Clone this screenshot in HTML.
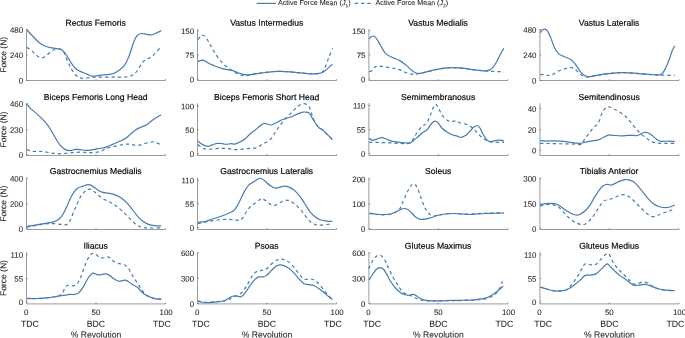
<!DOCTYPE html><html><head><meta charset="utf-8"><title>Muscle forces</title>
<style>html,body{margin:0;padding:0;background:#fff;overflow:hidden}svg{display:block;will-change:transform}text{font-family:"Liberation Sans",sans-serif;fill:#262626;stroke:#262626;stroke-width:0.07px}text.t{fill:#0a0a0a;stroke:#0a0a0a;stroke-width:0.2px}</style></head><body>
<svg width="685" height="338" viewBox="0 0 685 338">
<rect width="685" height="338" fill="#fff"/>
<line x1="256.7" y1="3.4" x2="276" y2="3.4" stroke="#457bb1" stroke-width="1.2"/>
<text transform="translate(278.00 5.10) rotate(0.03)" font-size="7.15">Active Force Mean (<tspan font-style="italic">J</tspan><tspan font-size="4.8" dy="2.1">1</tspan><tspan dy="-2.1">)</tspan></text>
<line x1="354.8" y1="3.4" x2="374" y2="3.4" stroke="#457bb1" stroke-width="1.2" stroke-dasharray="3.3 3"/>
<text transform="translate(375.60 5.10) rotate(0.03)" font-size="7.15">Active Force Mean (<tspan font-style="italic">J</tspan><tspan font-size="4.8" dy="2.1">2</tspan><tspan dy="-2.1">)</tspan></text>
<g stroke="#383838" stroke-width="0.5" fill="none">
<path d="M26.50 28.90 V80.50 H165.50"/>
<path d="M96.00 80.50 v-1.4"/>
<path d="M165.50 80.50 v-1.4"/>
<path d="M26.50 29.60 h1.4"/>
<path d="M26.50 54.90 h1.4"/>
<path d="M26.50 80.40 h1.4"/>
</g>
<text transform="translate(23.10 32.73) rotate(0.03)" font-size="7.90" text-anchor="end">480</text>
<text transform="translate(23.10 58.03) rotate(0.03)" font-size="7.90" text-anchor="end">240</text>
<text transform="translate(23.10 83.53) rotate(0.03)" font-size="7.90" text-anchor="end">0</text>
<text class="t" transform="translate(95.70 25.75) rotate(0.03)" font-size="8.62" text-anchor="middle">Rectus Femoris</text>
<path d="M26.86 47.35C27.67 47.89 30.11 49.24 31.73 50.59C33.36 51.95 34.99 54.25 36.61 55.47C38.24 56.69 39.87 57.91 41.49 57.91C43.12 57.91 44.61 56.69 46.37 55.47C48.13 54.25 50.31 51.63 52.08 50.59C53.84 49.56 55.46 49.50 56.96 49.29C58.45 49.07 59.81 48.66 61.03 49.29C62.25 49.91 63.19 51.05 64.27 53.03C65.35 55.02 66.30 58.47 67.52 61.18C68.74 63.89 70.23 67.00 71.59 69.30C72.95 71.61 74.31 73.60 75.66 75.01C77.02 76.42 78.25 77.24 79.74 77.78C81.23 78.32 82.42 78.36 84.62 78.25C86.81 78.15 89.91 77.31 92.92 77.12C95.92 76.93 99.15 77.12 102.67 77.12C106.20 77.12 110.68 77.14 114.06 77.12C117.45 77.11 120.81 77.10 122.96 77.05C125.12 76.99 125.78 76.95 127.01 76.80C128.25 76.65 129.06 76.67 130.36 76.14C131.66 75.62 133.33 75.06 134.81 73.65C136.28 72.25 137.86 69.67 139.21 67.69C140.56 65.72 141.54 63.28 142.91 61.81C144.27 60.33 145.92 59.71 147.41 58.84C148.89 57.97 150.34 57.71 151.81 56.60C153.27 55.50 154.66 53.80 156.21 52.20C157.76 50.60 160.29 47.87 161.11 47.00" fill="none" stroke="#457bb1" stroke-width="1.2" stroke-dasharray="3.3 3" stroke-linejoin="round"/>
<path d="M26.86 29.92C27.80 30.93 30.51 33.87 32.54 35.96C34.57 38.05 36.88 40.74 39.05 42.45C41.22 44.15 43.39 45.30 45.56 46.19C47.74 47.09 49.91 47.37 52.08 47.83C54.25 48.29 56.83 48.50 58.59 48.96C60.35 49.42 61.29 49.51 62.64 50.59C63.99 51.68 65.22 53.30 66.71 55.47C68.20 57.64 69.97 61.31 71.59 63.62C73.22 65.92 74.57 67.81 76.47 69.30C78.37 70.79 81.05 71.68 82.98 72.57C84.91 73.47 86.38 74.06 88.04 74.68C89.69 75.30 91.02 76.18 92.92 76.29C94.81 76.40 96.44 75.69 99.43 75.34C102.41 74.99 108.11 74.64 110.82 74.18C113.53 73.72 113.53 73.93 115.70 72.57C117.87 71.22 121.67 68.64 123.85 66.06C126.02 63.48 127.10 61.04 128.72 57.11C130.35 53.17 132.25 45.97 133.60 42.45C134.96 38.92 135.63 37.45 136.85 35.96C138.07 34.47 139.29 33.79 140.92 33.52C142.55 33.25 144.86 34.11 146.63 34.32C148.39 34.54 149.88 35.02 151.51 34.80C153.13 34.58 154.76 33.72 156.38 33.02C158.01 32.31 160.45 30.98 161.26 30.58" fill="none" stroke="#457bb1" stroke-width="1.2" stroke-linejoin="round"/>
<text transform="translate(6.35 54.85) rotate(-89.97)" font-size="8.50" text-anchor="middle">Force (N)</text>
<g stroke="#383838" stroke-width="0.5" fill="none">
<path d="M197.50 28.90 V80.50 H336.50"/>
<path d="M267.00 80.50 v-1.4"/>
<path d="M336.50 80.50 v-1.4"/>
<path d="M197.50 30.80 h1.4"/>
<path d="M197.50 54.95 h1.4"/>
<path d="M197.50 79.10 h1.4"/>
</g>
<text transform="translate(194.10 33.93) rotate(0.03)" font-size="7.90" text-anchor="end">150</text>
<text transform="translate(194.10 58.08) rotate(0.03)" font-size="7.90" text-anchor="end">75</text>
<text transform="translate(194.10 82.23) rotate(0.03)" font-size="7.90" text-anchor="end">0</text>
<text class="t" transform="translate(266.70 25.75) rotate(0.03)" font-size="8.62" text-anchor="middle">Vastus Intermedius</text>
<path d="M197.90 39.73C198.40 39.10 200.00 36.67 200.92 35.96C201.84 35.25 202.59 35.25 203.43 35.46C204.27 35.67 204.90 35.79 205.95 37.22C207.00 38.64 208.25 41.41 209.72 44.01C211.19 46.60 212.65 49.66 214.75 52.81C216.84 55.95 219.78 60.14 222.29 62.87C224.81 65.59 227.32 67.35 229.84 69.15C232.35 70.95 235.08 72.59 237.38 73.68C239.69 74.77 241.57 75.48 243.67 75.69C245.76 75.90 247.65 75.31 249.95 74.94C252.26 74.56 253.73 73.97 257.50 73.43C261.27 72.88 268.81 72.00 272.58 71.67C276.36 71.33 277.19 71.37 280.13 71.42C283.06 71.46 286.42 71.62 290.19 71.92C293.96 72.21 298.99 72.84 302.76 73.18C306.53 73.51 310.09 73.89 312.82 73.93C315.54 73.97 317.43 73.80 319.11 73.43C320.78 73.05 321.83 72.80 322.88 71.67C323.92 70.54 324.34 69.15 325.39 66.64C326.44 64.12 327.99 59.60 329.16 56.58C330.34 53.56 331.89 49.87 332.43 48.53" fill="none" stroke="#457bb1" stroke-width="1.2" stroke-dasharray="3.3 3" stroke-linejoin="round"/>
<path d="M197.90 61.61C198.40 61.40 200.00 60.56 200.92 60.35C201.84 60.14 202.38 60.02 203.43 60.35C204.48 60.69 205.53 61.52 207.20 62.36C208.88 63.20 210.98 64.33 213.49 65.38C216.01 66.43 219.15 67.81 222.29 68.65C225.44 69.49 229.42 69.61 232.35 70.41C235.28 71.21 237.59 72.67 239.89 73.43C242.20 74.18 244.09 74.77 246.18 74.94C248.28 75.10 249.74 74.77 252.47 74.43C255.19 74.10 259.17 73.38 262.53 72.92C265.88 72.46 269.65 71.92 272.58 71.67C275.52 71.42 277.19 71.37 280.13 71.42C283.06 71.46 286.42 71.62 290.19 71.92C293.96 72.21 298.99 72.84 302.76 73.18C306.53 73.51 310.09 73.89 312.82 73.93C315.54 73.97 317.43 73.72 319.11 73.43C320.78 73.13 321.41 73.01 322.88 72.17C324.34 71.33 326.31 69.74 327.91 68.40C329.50 67.06 331.68 64.84 332.43 64.12" fill="none" stroke="#457bb1" stroke-width="1.2" stroke-linejoin="round"/>
<g stroke="#383838" stroke-width="0.5" fill="none">
<path d="M368.90 28.90 V80.50 H507.90"/>
<path d="M438.40 80.50 v-1.4"/>
<path d="M507.90 80.50 v-1.4"/>
<path d="M368.90 30.80 h1.4"/>
<path d="M368.90 54.95 h1.4"/>
<path d="M368.90 79.10 h1.4"/>
</g>
<text transform="translate(365.50 33.93) rotate(0.03)" font-size="7.90" text-anchor="end">150</text>
<text transform="translate(365.50 58.08) rotate(0.03)" font-size="7.90" text-anchor="end">75</text>
<text transform="translate(365.50 82.23) rotate(0.03)" font-size="7.90" text-anchor="end">0</text>
<text class="t" transform="translate(438.10 25.75) rotate(0.03)" font-size="8.62" text-anchor="middle">Vastus Medialis</text>
<path d="M369.15 71.67C369.65 71.46 371.12 71.25 372.16 70.41C373.21 69.57 374.26 67.35 375.43 66.64C376.61 65.92 377.32 66.05 379.20 66.13C381.09 66.22 384.23 66.76 386.75 67.14C389.26 67.52 391.99 67.89 394.29 68.40C396.60 68.90 398.48 69.40 400.58 70.16C402.67 70.91 404.77 72.21 406.87 72.92C408.96 73.64 411.06 74.35 413.15 74.43C415.25 74.52 416.71 73.97 419.44 73.43C422.16 72.88 426.98 71.75 429.50 71.16C432.01 70.58 432.01 70.41 434.53 69.91C437.04 69.40 441.65 68.52 444.58 68.15C447.52 67.77 449.19 67.64 452.13 67.64C455.06 67.64 458.42 67.77 462.19 68.15C465.96 68.52 470.99 69.45 474.76 69.91C478.53 70.37 481.88 70.66 484.82 70.91C487.75 71.16 489.85 71.29 492.36 71.42C494.88 71.54 497.98 71.58 499.91 71.67C501.83 71.75 503.26 71.88 503.93 71.92" fill="none" stroke="#457bb1" stroke-width="1.2" stroke-dasharray="3.3 3" stroke-linejoin="round"/>
<path d="M369.15 38.73C369.57 38.35 370.82 36.88 371.66 36.46C372.50 36.04 373.34 35.83 374.18 36.21C375.01 36.59 375.64 37.22 376.69 38.73C377.74 40.23 379.00 42.83 380.46 45.26C381.93 47.69 383.61 51.30 385.49 53.31C387.38 55.32 389.47 56.16 391.78 57.33C394.08 58.51 397.02 59.09 399.32 60.35C401.63 61.61 403.51 63.20 405.61 64.88C407.70 66.55 410.01 68.98 411.89 70.41C413.78 71.83 414.83 73.09 416.92 73.43C419.02 73.76 421.53 73.01 424.47 72.42C427.40 71.83 431.17 70.62 434.53 69.91C437.88 69.19 441.65 68.52 444.58 68.15C447.52 67.77 449.19 67.64 452.13 67.64C455.06 67.64 458.42 67.77 462.19 68.15C465.96 68.52 470.99 69.45 474.76 69.91C478.53 70.37 482.30 70.91 484.82 70.91C487.33 70.91 488.38 70.62 489.85 69.91C491.31 69.19 492.36 68.23 493.62 66.64C494.88 65.04 496.13 62.66 497.39 60.35C498.65 58.05 500.07 54.82 501.16 52.81C502.25 50.80 503.47 49.04 503.93 48.28" fill="none" stroke="#457bb1" stroke-width="1.2" stroke-linejoin="round"/>
<g stroke="#383838" stroke-width="0.5" fill="none">
<path d="M539.90 28.90 V80.50 H678.90"/>
<path d="M609.40 80.50 v-1.4"/>
<path d="M678.90 80.50 v-1.4"/>
<path d="M539.90 29.60 h1.4"/>
<path d="M539.90 54.90 h1.4"/>
<path d="M539.90 80.40 h1.4"/>
</g>
<text transform="translate(536.50 32.73) rotate(0.03)" font-size="7.90" text-anchor="end">480</text>
<text transform="translate(536.50 58.03) rotate(0.03)" font-size="7.90" text-anchor="end">240</text>
<text transform="translate(536.50 83.53) rotate(0.03)" font-size="7.90" text-anchor="end">0</text>
<text class="t" transform="translate(609.10 25.75) rotate(0.03)" font-size="8.62" text-anchor="middle">Vastus Lateralis</text>
<path d="M540.16 74.68C540.87 74.64 543.09 74.31 544.43 74.43C545.77 74.56 546.95 75.35 548.20 75.44C549.46 75.52 550.51 75.56 551.98 74.94C553.44 74.31 555.12 72.63 557.01 71.67C558.89 70.70 561.62 69.70 563.29 69.15C564.97 68.61 565.68 68.65 567.06 68.40C568.45 68.15 570.12 67.39 571.59 67.64C573.06 67.89 574.31 68.73 575.87 69.91C577.42 71.08 579.01 73.51 580.89 74.68C582.78 75.86 584.67 76.82 587.18 76.95C589.70 77.07 592.84 75.94 595.98 75.44C599.13 74.94 602.69 74.35 606.04 73.93C609.39 73.51 613.17 73.13 616.10 72.92C619.03 72.71 620.71 72.63 623.64 72.67C626.58 72.71 629.93 72.92 633.70 73.18C637.47 73.43 642.50 73.89 646.27 74.18C650.05 74.47 653.40 74.77 656.33 74.94C659.27 75.10 660.82 75.10 663.88 75.19C666.94 75.27 672.89 75.40 674.69 75.44" fill="none" stroke="#457bb1" stroke-width="1.2" stroke-dasharray="3.3 3" stroke-linejoin="round"/>
<path d="M540.16 32.69C540.58 32.19 541.83 30.26 542.67 29.67C543.51 29.09 544.35 28.88 545.19 29.17C546.03 29.46 546.78 30.01 547.70 31.43C548.62 32.86 549.59 35.00 550.72 37.72C551.85 40.44 553.23 45.18 554.49 47.78C555.75 50.38 556.80 51.88 558.26 53.31C559.73 54.73 561.20 55.28 563.29 56.33C565.39 57.38 568.74 58.17 570.84 59.60C572.93 61.02 574.19 62.74 575.87 64.88C577.54 67.01 579.01 70.45 580.89 72.42C582.78 74.39 584.67 76.19 587.18 76.70C589.70 77.20 592.84 75.90 595.98 75.44C599.13 74.98 602.69 74.35 606.04 73.93C609.39 73.51 613.17 73.13 616.10 72.92C619.03 72.71 620.71 72.63 623.64 72.67C626.58 72.71 629.93 72.92 633.70 73.18C637.47 73.43 642.50 73.89 646.27 74.18C650.05 74.47 653.82 74.94 656.33 74.94C658.85 74.94 659.90 75.15 661.36 74.18C662.83 73.22 663.88 71.46 665.13 69.15C666.39 66.85 667.77 63.28 668.91 60.35C670.04 57.42 670.96 53.98 671.92 51.55C672.89 49.12 674.23 46.73 674.69 45.77" fill="none" stroke="#457bb1" stroke-width="1.2" stroke-linejoin="round"/>
<g stroke="#383838" stroke-width="0.5" fill="none">
<path d="M26.50 103.20 V155.50 H165.50"/>
<path d="M96.00 155.50 v-1.4"/>
<path d="M165.50 155.50 v-1.4"/>
<path d="M26.50 103.70 h1.4"/>
<path d="M26.50 129.70 h1.4"/>
<path d="M26.50 154.70 h1.4"/>
</g>
<text transform="translate(23.10 106.83) rotate(0.03)" font-size="7.90" text-anchor="end">460</text>
<text transform="translate(23.10 132.83) rotate(0.03)" font-size="7.90" text-anchor="end">230</text>
<text transform="translate(23.10 157.83) rotate(0.03)" font-size="7.90" text-anchor="end">0</text>
<text class="t" transform="translate(95.70 100.10) rotate(0.03)" font-size="8.62" text-anchor="middle">Biceps Femoris Long Head</text>
<path d="M26.91 149.37C27.66 149.71 29.63 151.05 31.43 151.39C33.23 151.72 35.62 151.34 37.72 151.39C39.81 151.43 41.91 151.39 44.01 151.64C46.10 151.89 47.99 152.56 50.29 152.89C52.60 153.23 55.32 153.57 57.84 153.65C60.35 153.73 62.87 153.57 65.38 153.40C67.89 153.23 70.41 152.85 72.92 152.64C75.44 152.43 77.95 152.14 80.47 152.14C82.98 152.14 85.50 152.60 88.01 152.64C90.53 152.69 93.25 152.69 95.56 152.39C97.86 152.10 99.75 151.64 101.84 150.88C103.94 150.13 105.82 148.66 108.13 147.87C110.43 147.07 113.16 146.65 115.67 146.11C118.19 145.56 121.12 144.93 123.22 144.60C125.31 144.26 126.57 144.05 128.25 144.09C129.92 144.14 131.60 144.64 133.27 144.85C134.95 145.06 136.42 145.56 138.30 145.35C140.19 145.14 142.50 144.14 144.59 143.59C146.69 143.05 149.20 142.38 150.88 142.08C152.55 141.79 153.39 141.58 154.65 141.83C155.91 142.08 157.33 143.09 158.42 143.59C159.51 144.09 160.73 144.64 161.19 144.85" fill="none" stroke="#457bb1" stroke-width="1.2" stroke-dasharray="3.3 3" stroke-linejoin="round"/>
<path d="M26.91 104.36C27.45 104.99 28.37 106.42 30.18 108.13C31.98 109.85 35.20 112.33 37.72 114.67C40.23 117.02 43.17 119.83 45.26 122.22C47.36 124.61 48.62 126.41 50.29 129.01C51.97 131.60 53.65 135.08 55.32 137.81C57.00 140.53 58.67 143.38 60.35 145.35C62.03 147.32 63.70 148.75 65.38 149.63C67.06 150.51 68.73 150.67 70.41 150.63C72.09 150.59 73.76 149.54 75.44 149.37C77.12 149.21 78.79 149.46 80.47 149.63C82.14 149.79 83.82 150.30 85.50 150.38C87.17 150.46 88.43 150.42 90.53 150.13C92.62 149.84 95.56 149.08 98.07 148.62C100.58 148.16 103.10 148.12 105.61 147.36C108.13 146.61 110.64 145.18 113.16 144.09C115.67 143.00 118.61 141.79 120.70 140.82C122.80 139.86 124.05 139.44 125.73 138.31C127.41 137.18 129.08 135.46 130.76 134.04C132.44 132.61 134.11 130.89 135.79 129.76C137.47 128.63 138.93 128.13 140.82 127.25C142.70 126.37 145.01 125.78 147.11 124.48C149.20 123.18 151.04 121.04 153.39 119.45C155.74 117.86 159.89 115.68 161.19 114.92" fill="none" stroke="#457bb1" stroke-width="1.2" stroke-linejoin="round"/>
<text transform="translate(6.35 129.50) rotate(-89.97)" font-size="8.50" text-anchor="middle">Force (N)</text>
<g stroke="#383838" stroke-width="0.5" fill="none">
<path d="M197.50 103.20 V155.50 H336.50"/>
<path d="M267.00 155.50 v-1.4"/>
<path d="M336.50 155.50 v-1.4"/>
<path d="M197.50 106.10 h1.4"/>
<path d="M197.50 129.80 h1.4"/>
<path d="M197.50 153.60 h1.4"/>
</g>
<text transform="translate(194.10 109.23) rotate(0.03)" font-size="7.90" text-anchor="end">100</text>
<text transform="translate(194.10 132.93) rotate(0.03)" font-size="7.90" text-anchor="end">50</text>
<text transform="translate(194.10 156.73) rotate(0.03)" font-size="7.90" text-anchor="end">0</text>
<text class="t" transform="translate(266.70 100.10) rotate(0.03)" font-size="8.62" text-anchor="middle">Biceps Femoris Short Head</text>
<path d="M197.90 144.60C198.61 145.14 200.62 147.07 202.18 147.87C203.73 148.66 205.11 149.25 207.20 149.37C209.30 149.50 212.23 148.79 214.75 148.62C217.26 148.45 219.99 148.37 222.29 148.37C224.60 148.37 226.48 148.41 228.58 148.62C230.67 148.83 232.56 149.54 234.87 149.63C237.17 149.71 239.89 149.33 242.41 149.12C244.92 148.91 247.65 148.58 249.95 148.37C252.26 148.16 254.14 148.58 256.24 147.87C258.34 147.15 260.22 145.43 262.53 144.09C264.83 142.75 267.97 141.70 270.07 139.82C272.17 137.93 273.42 135.21 275.10 132.78C276.78 130.35 278.24 127.75 280.13 125.23C282.01 122.72 284.32 120.00 286.42 117.69C288.51 115.38 290.82 113.29 292.70 111.40C294.59 109.52 295.89 107.67 297.73 106.37C299.58 105.08 301.94 103.66 303.77 103.61C305.59 103.56 307.45 104.71 308.67 106.07C309.89 107.43 310.43 109.86 311.11 111.76C311.79 113.65 311.93 115.40 312.74 117.44C313.56 119.48 314.90 122.22 315.99 123.98C317.07 125.74 318.30 127.11 319.26 128.00C320.21 128.89 320.76 128.65 321.70 129.33C322.63 130.02 323.12 130.41 324.89 132.10C326.66 133.78 331.07 138.22 332.31 139.44" fill="none" stroke="#457bb1" stroke-width="1.2" stroke-dasharray="3.3 3" stroke-linejoin="round"/>
<path d="M197.90 140.82C198.40 141.29 199.79 142.79 200.92 143.59C202.05 144.39 203.43 145.14 204.69 145.60C205.95 146.06 207.20 146.48 208.46 146.36C209.72 146.23 210.77 145.35 212.23 144.85C213.70 144.35 215.59 143.55 217.26 143.34C218.94 143.13 220.83 143.42 222.29 143.59C223.76 143.76 224.60 144.35 226.06 144.35C227.53 144.35 229.63 143.63 231.09 143.59C232.56 143.55 233.40 144.35 234.87 144.09C236.33 143.84 238.22 142.92 239.89 142.08C241.57 141.24 243.25 140.41 244.92 139.06C246.60 137.72 248.28 135.50 249.95 134.04C251.63 132.57 253.31 131.60 254.98 130.26C256.66 128.92 258.54 127.12 260.01 125.99C261.48 124.86 262.53 123.81 263.78 123.47C265.04 123.14 266.30 123.73 267.56 123.98C268.81 124.23 269.86 125.19 271.33 124.98C272.79 124.77 274.47 123.64 276.36 122.72C278.24 121.80 280.34 120.37 282.64 119.45C284.95 118.53 287.67 118.11 290.19 117.19C292.70 116.27 295.64 114.76 297.73 113.92C299.83 113.08 301.08 112.41 302.76 112.16C304.44 111.91 306.62 112.12 307.79 112.41C308.96 112.70 308.96 112.81 309.80 113.92C310.64 115.03 311.79 117.40 312.82 119.07C313.85 120.75 314.91 122.49 315.99 123.98C317.06 125.46 318.30 127.11 319.26 128.00C320.21 128.89 320.76 128.65 321.70 129.33C322.63 130.02 323.12 130.41 324.89 132.10C326.66 133.78 331.07 138.22 332.31 139.44" fill="none" stroke="#457bb1" stroke-width="1.2" stroke-linejoin="round"/>
<g stroke="#383838" stroke-width="0.5" fill="none">
<path d="M368.90 103.20 V155.50 H507.90"/>
<path d="M438.40 155.50 v-1.4"/>
<path d="M507.90 155.50 v-1.4"/>
<path d="M368.90 105.40 h1.4"/>
<path d="M368.90 129.70 h1.4"/>
<path d="M368.90 153.50 h1.4"/>
</g>
<text transform="translate(365.50 108.53) rotate(0.03)" font-size="7.90" text-anchor="end">110</text>
<text transform="translate(365.50 132.83) rotate(0.03)" font-size="7.90" text-anchor="end">55</text>
<text transform="translate(365.50 156.63) rotate(0.03)" font-size="7.90" text-anchor="end">0</text>
<text class="t" transform="translate(438.10 100.10) rotate(0.03)" font-size="8.62" text-anchor="middle">Semimembranosus</text>
<path d="M369.15 142.33C371.24 142.38 377.53 142.46 381.72 142.58C385.91 142.71 390.52 142.92 394.29 143.09C398.06 143.26 401.75 143.59 404.35 143.59C406.95 143.59 408.42 143.84 409.88 143.09C411.35 142.33 411.98 140.78 413.15 139.06C414.33 137.35 415.46 134.87 416.92 132.78C418.39 130.68 420.28 128.17 421.95 126.49C423.63 124.81 425.52 124.81 426.98 122.72C428.45 120.62 429.62 116.64 430.75 113.92C431.89 111.19 432.93 107.97 433.77 106.37C434.61 104.78 435.03 104.15 435.78 104.36C436.54 104.57 437.25 105.83 438.30 107.63C439.35 109.43 440.60 113.08 442.07 115.18C443.54 117.27 445.42 119.16 447.10 120.20C448.78 121.25 450.66 121.34 452.13 121.46C453.60 121.59 454.43 120.67 455.90 120.96C457.37 121.25 459.04 122.64 460.93 123.22C462.82 123.81 465.33 123.73 467.22 124.48C469.10 125.23 470.57 126.37 472.25 127.75C473.92 129.13 475.60 131.10 477.27 132.78C478.95 134.45 480.63 136.47 482.30 137.81C483.98 139.15 485.66 140.11 487.33 140.82C489.01 141.54 489.60 141.83 492.36 142.08C495.13 142.33 502.00 142.29 503.93 142.33" fill="none" stroke="#457bb1" stroke-width="1.2" stroke-dasharray="3.3 3" stroke-linejoin="round"/>
<path d="M369.15 138.31C369.65 138.65 370.91 140.20 372.16 140.32C373.42 140.45 375.10 139.53 376.69 139.06C378.28 138.60 380.25 137.64 381.72 137.56C383.19 137.47 384.02 138.02 385.49 138.56C386.96 139.11 388.63 140.28 390.52 140.82C392.41 141.37 394.50 141.50 396.81 141.83C399.11 142.17 402.26 142.63 404.35 142.84C406.45 143.05 407.91 143.42 409.38 143.09C410.85 142.75 411.69 141.91 413.15 140.82C414.62 139.73 416.50 137.97 418.18 136.55C419.86 135.12 421.74 133.41 423.21 132.27C424.68 131.14 425.73 131.02 426.98 129.76C428.24 128.50 429.71 126.07 430.75 124.73C431.80 123.39 432.43 122.30 433.27 121.71C434.11 121.13 434.95 120.96 435.78 121.21C436.62 121.46 437.25 122.05 438.30 123.22C439.35 124.40 440.60 126.78 442.07 128.25C443.54 129.72 445.42 130.93 447.10 132.02C448.78 133.11 450.45 134.12 452.13 134.79C453.81 135.46 455.69 135.63 457.16 136.05C458.62 136.47 459.46 137.43 460.93 137.30C462.40 137.18 464.49 136.26 465.96 135.29C467.43 134.33 468.47 132.86 469.73 131.52C470.99 130.18 472.25 128.25 473.50 127.25C474.76 126.24 476.23 125.40 477.27 125.49C478.32 125.57 478.95 126.53 479.79 127.75C480.63 128.96 481.26 130.89 482.30 132.78C483.35 134.66 484.82 137.60 486.08 139.06C487.33 140.53 488.38 141.33 489.85 141.58C491.31 141.83 493.20 140.82 494.88 140.57C496.55 140.32 498.40 140.03 499.91 140.07C501.42 140.11 503.26 140.70 503.93 140.82" fill="none" stroke="#457bb1" stroke-width="1.2" stroke-linejoin="round"/>
<g stroke="#383838" stroke-width="0.5" fill="none">
<path d="M539.90 103.20 V155.50 H678.90"/>
<path d="M609.40 155.50 v-1.4"/>
<path d="M678.90 155.50 v-1.4"/>
<path d="M539.90 108.55 h1.4"/>
<path d="M539.90 129.70 h1.4"/>
<path d="M539.90 150.20 h1.4"/>
</g>
<text transform="translate(536.50 111.68) rotate(0.03)" font-size="7.90" text-anchor="end">40</text>
<text transform="translate(536.50 132.83) rotate(0.03)" font-size="7.90" text-anchor="end">20</text>
<text transform="translate(536.50 153.33) rotate(0.03)" font-size="7.90" text-anchor="end">0</text>
<text class="t" transform="translate(609.10 100.10) rotate(0.03)" font-size="8.62" text-anchor="middle">Semitendinosus</text>
<path d="M540.16 143.34C541.92 143.38 546.86 143.51 550.72 143.59C554.58 143.67 559.31 143.76 563.29 143.84C567.27 143.93 571.67 144.01 574.61 144.09C577.54 144.18 579.34 144.97 580.89 144.35C582.45 143.72 582.65 142.04 583.91 140.32C585.17 138.60 586.85 136.13 588.44 134.04C590.03 131.94 591.79 129.63 593.47 127.75C595.14 125.86 597.03 125.23 598.50 122.72C599.96 120.20 601.01 115.18 602.27 112.66C603.53 110.15 604.78 108.57 606.04 107.63C607.30 106.69 608.56 106.81 609.81 107.00C611.07 107.19 612.12 108.03 613.58 108.76C615.05 109.50 616.73 110.25 618.61 111.40C620.50 112.56 623.01 114.00 624.90 115.68C626.79 117.35 628.04 119.24 629.93 121.46C631.82 123.68 634.33 126.91 636.22 129.01C638.10 131.10 639.36 132.36 641.25 134.04C643.13 135.71 645.44 137.68 647.53 139.06C649.63 140.45 651.51 141.62 653.82 142.33C656.12 143.05 657.88 143.17 661.36 143.34C664.84 143.51 672.47 143.34 674.69 143.34" fill="none" stroke="#457bb1" stroke-width="1.2" stroke-dasharray="3.3 3" stroke-linejoin="round"/>
<path d="M540.16 140.57C541.08 140.66 543.09 141.03 545.69 141.08C548.29 141.12 552.40 140.74 555.75 140.82C559.10 140.91 562.87 141.24 565.81 141.58C568.74 141.91 571.05 142.54 573.35 142.84C575.66 143.13 577.75 143.42 579.64 143.34C581.52 143.26 582.78 142.71 584.67 142.33C586.55 141.96 588.65 141.50 590.95 141.08C593.26 140.66 596.40 140.45 598.50 139.82C600.59 139.19 601.85 138.10 603.53 137.30C605.20 136.51 606.88 135.38 608.56 135.04C610.23 134.71 611.49 135.17 613.58 135.29C615.68 135.42 618.61 135.80 621.13 135.80C623.64 135.80 626.16 135.33 628.67 135.29C631.19 135.25 634.33 135.67 636.22 135.54C638.10 135.42 638.73 135.04 639.99 134.54C641.25 134.04 642.50 132.82 643.76 132.53C645.02 132.23 646.27 132.40 647.53 132.78C648.79 133.15 649.84 133.74 651.30 134.79C652.77 135.84 654.66 137.97 656.33 139.06C658.01 140.15 659.27 140.99 661.36 141.33C663.46 141.66 666.69 141.03 668.91 141.08C671.13 141.12 673.73 141.50 674.69 141.58" fill="none" stroke="#457bb1" stroke-width="1.2" stroke-linejoin="round"/>
<g stroke="#383838" stroke-width="0.5" fill="none">
<path d="M26.50 177.60 V229.50 H165.50"/>
<path d="M96.00 229.50 v-1.4"/>
<path d="M165.50 229.50 v-1.4"/>
<path d="M26.50 178.40 h1.4"/>
<path d="M26.50 203.70 h1.4"/>
<path d="M26.50 228.60 h1.4"/>
</g>
<text transform="translate(23.10 181.53) rotate(0.03)" font-size="7.90" text-anchor="end">400</text>
<text transform="translate(23.10 206.83) rotate(0.03)" font-size="7.90" text-anchor="end">200</text>
<text transform="translate(23.10 231.73) rotate(0.03)" font-size="7.90" text-anchor="end">0</text>
<text class="t" transform="translate(95.70 174.10) rotate(0.03)" font-size="8.62" text-anchor="middle">Gastrocnemius Medialis</text>
<path d="M26.91 227.09C28.29 226.84 32.35 226.09 35.20 225.58C38.05 225.08 41.07 224.41 44.01 224.08C46.94 223.74 50.08 223.53 52.81 223.57C55.53 223.62 58.09 224.16 60.35 224.33C62.61 224.50 64.79 225.17 66.39 224.58C67.98 223.99 68.69 222.90 69.91 220.81C71.12 218.71 72.42 214.94 73.68 212.01C74.94 209.07 76.19 205.93 77.45 203.20C78.71 200.48 79.80 197.76 81.22 195.66C82.65 193.57 84.62 191.72 86.00 190.63C87.38 189.54 88.31 189.12 89.52 189.12C90.74 189.12 91.87 189.63 93.29 190.63C94.72 191.64 96.23 193.69 98.07 195.16C99.91 196.62 102.26 198.22 104.36 199.43C106.45 200.65 108.76 201.40 110.64 202.45C112.53 203.50 113.79 204.34 115.67 205.72C117.56 207.10 119.86 208.86 121.96 210.75C124.05 212.63 126.36 215.15 128.25 217.04C130.13 218.92 131.60 220.60 133.27 222.06C134.95 223.53 136.63 224.91 138.30 225.84C139.98 226.76 141.24 227.24 143.33 227.60C145.43 227.95 147.90 227.93 150.88 227.97C153.85 228.02 159.47 227.87 161.19 227.85" fill="none" stroke="#457bb1" stroke-width="1.2" stroke-dasharray="3.3 3" stroke-linejoin="round"/>
<path d="M26.91 226.34C28.29 226.13 32.35 225.54 35.20 225.08C38.05 224.62 41.07 224.08 44.01 223.57C46.94 223.07 50.29 222.82 52.81 222.06C55.32 221.31 57.42 220.30 59.09 219.05C60.77 217.79 61.61 216.53 62.87 214.52C64.12 212.51 65.38 209.70 66.64 206.98C67.89 204.25 69.15 200.69 70.41 198.18C71.67 195.66 72.92 193.57 74.18 191.89C75.44 190.21 76.49 189.08 77.95 188.12C79.42 187.15 81.31 186.69 82.98 186.11C84.66 185.52 86.54 184.68 88.01 184.60C89.48 184.51 90.32 184.81 91.78 185.60C93.25 186.40 95.14 188.28 96.81 189.37C98.49 190.46 99.96 191.51 101.84 192.14C103.73 192.77 106.24 192.81 108.13 193.15C110.01 193.48 111.48 193.65 113.16 194.15C114.83 194.65 116.51 195.28 118.19 196.16C119.86 197.04 121.54 198.05 123.22 199.43C124.89 200.82 126.57 202.58 128.25 204.46C129.92 206.35 131.60 208.65 133.27 210.75C134.95 212.84 136.63 215.23 138.30 217.04C139.98 218.84 141.66 220.35 143.33 221.56C145.01 222.78 146.48 223.66 148.36 224.33C150.25 225.00 152.51 225.33 154.65 225.58C156.79 225.84 160.10 225.79 161.19 225.84" fill="none" stroke="#457bb1" stroke-width="1.2" stroke-linejoin="round"/>
<text transform="translate(6.35 203.70) rotate(-89.97)" font-size="8.50" text-anchor="middle">Force (N)</text>
<g stroke="#383838" stroke-width="0.5" fill="none">
<path d="M197.50 177.60 V229.50 H336.50"/>
<path d="M267.00 229.50 v-1.4"/>
<path d="M336.50 229.50 v-1.4"/>
<path d="M197.50 180.20 h1.4"/>
<path d="M197.50 203.85 h1.4"/>
<path d="M197.50 227.50 h1.4"/>
</g>
<text transform="translate(194.10 183.33) rotate(0.03)" font-size="7.90" text-anchor="end">110</text>
<text transform="translate(194.10 206.98) rotate(0.03)" font-size="7.90" text-anchor="end">55</text>
<text transform="translate(194.10 230.63) rotate(0.03)" font-size="7.90" text-anchor="end">0</text>
<text class="t" transform="translate(266.70 174.10) rotate(0.03)" font-size="8.62" text-anchor="middle">Gastrocnemius Lateralis</text>
<path d="M197.90 223.57C199.03 223.32 202.09 222.57 204.69 222.06C207.29 221.56 210.56 220.97 213.49 220.56C216.42 220.14 219.57 219.76 222.29 219.55C225.02 219.34 227.74 219.24 229.84 219.30C231.93 219.36 233.31 219.76 234.87 219.93C236.42 220.09 237.88 220.58 239.14 220.30C240.40 220.03 241.24 219.68 242.41 218.29C243.58 216.91 244.92 213.89 246.18 212.01C247.44 210.12 248.49 208.44 249.95 206.98C251.42 205.51 253.31 204.46 254.98 203.20C256.66 201.95 258.75 200.19 260.01 199.43C261.27 198.68 261.48 198.38 262.53 198.68C263.57 198.97 264.83 200.15 266.30 201.19C267.77 202.24 269.86 204.29 271.33 204.96C272.79 205.64 273.63 205.59 275.10 205.22C276.57 204.84 278.45 203.54 280.13 202.70C281.81 201.86 283.48 200.44 285.16 200.19C286.83 199.94 288.51 200.48 290.19 201.19C291.86 201.91 293.54 203.08 295.22 204.46C296.89 205.85 298.57 207.61 300.25 209.49C301.92 211.38 303.60 213.77 305.27 215.78C306.95 217.79 308.63 220.09 310.30 221.56C311.98 223.03 313.66 223.99 315.33 224.58C317.01 225.17 318.27 225.12 320.36 225.08C322.46 225.04 325.89 224.54 327.91 224.33C329.92 224.12 331.68 223.91 332.43 223.82" fill="none" stroke="#457bb1" stroke-width="1.2" stroke-dasharray="3.3 3" stroke-linejoin="round"/>
<path d="M197.90 222.32C199.03 222.19 202.30 222.11 204.69 221.56C207.08 221.02 209.51 219.93 212.23 219.05C214.96 218.17 218.52 217.16 221.04 216.28C223.55 215.40 225.23 214.69 227.32 213.77C229.42 212.84 231.93 212.09 233.61 210.75C235.28 209.41 236.12 207.81 237.38 205.72C238.64 203.62 239.89 200.69 241.15 198.18C242.41 195.66 243.67 192.81 244.92 190.63C246.18 188.45 247.23 186.57 248.70 185.10C250.16 183.63 252.05 182.88 253.73 181.83C255.40 180.78 257.50 179.36 258.75 178.81C260.01 178.27 260.22 178.18 261.27 178.56C262.32 178.94 263.57 179.90 265.04 181.08C266.51 182.25 268.39 184.43 270.07 185.60C271.75 186.78 273.42 187.87 275.10 188.12C276.78 188.37 278.45 187.45 280.13 187.11C281.81 186.78 283.48 186.02 285.16 186.11C286.83 186.19 288.51 186.78 290.19 187.61C291.86 188.45 293.54 189.58 295.22 191.13C296.89 192.69 298.57 194.70 300.25 196.92C301.92 199.14 303.60 201.95 305.27 204.46C306.95 206.98 308.63 209.91 310.30 212.01C311.98 214.10 313.66 215.74 315.33 217.04C317.01 218.33 318.48 219.13 320.36 219.80C322.25 220.47 324.64 220.81 326.65 221.06C328.66 221.31 331.47 221.27 332.43 221.31" fill="none" stroke="#457bb1" stroke-width="1.2" stroke-linejoin="round"/>
<g stroke="#383838" stroke-width="0.5" fill="none">
<path d="M368.90 177.60 V229.50 H507.90"/>
<path d="M438.40 229.50 v-1.4"/>
<path d="M507.90 229.50 v-1.4"/>
<path d="M368.90 179.00 h1.4"/>
<path d="M368.90 203.80 h1.4"/>
<path d="M368.90 228.60 h1.4"/>
</g>
<text transform="translate(365.50 182.13) rotate(0.03)" font-size="7.90" text-anchor="end">200</text>
<text transform="translate(365.50 206.93) rotate(0.03)" font-size="7.90" text-anchor="end">100</text>
<text transform="translate(365.50 231.73) rotate(0.03)" font-size="7.90" text-anchor="end">0</text>
<text class="t" transform="translate(438.10 174.10) rotate(0.03)" font-size="8.62" text-anchor="middle">Soleus</text>
<path d="M369.15 213.51C370.40 213.68 374.18 214.31 376.69 214.52C379.20 214.73 381.93 214.81 384.23 214.77C386.54 214.73 388.63 214.69 390.52 214.27C392.41 213.85 394.08 213.05 395.55 212.26C397.02 211.46 398.27 210.79 399.32 209.49C400.37 208.19 400.79 206.77 401.84 204.46C402.88 202.16 404.35 198.38 405.61 195.66C406.87 192.94 408.25 190.00 409.38 188.12C410.51 186.23 411.48 184.97 412.40 184.35C413.32 183.72 414.07 183.72 414.91 184.35C415.75 184.97 416.46 186.02 417.43 188.12C418.39 190.21 419.52 193.77 420.70 196.92C421.87 200.06 423.21 204.34 424.47 206.98C425.73 209.62 427.19 211.42 428.24 212.76C429.29 214.10 429.71 214.52 430.75 215.02C431.80 215.53 433.27 215.78 434.53 215.78C435.78 215.78 436.20 215.36 438.30 215.02C440.39 214.69 444.38 214.02 447.10 213.77C449.82 213.51 452.13 213.47 454.64 213.51C457.16 213.56 459.67 213.89 462.19 214.02C464.70 214.14 467.22 214.35 469.73 214.27C472.25 214.19 474.76 213.68 477.27 213.51C479.79 213.35 481.88 213.35 484.82 213.26C487.75 213.18 491.69 213.10 494.88 213.01C498.06 212.93 502.42 212.80 503.93 212.76" fill="none" stroke="#457bb1" stroke-width="1.2" stroke-dasharray="3.3 3" stroke-linejoin="round"/>
<path d="M369.15 213.26C370.40 213.43 374.18 214.06 376.69 214.27C379.20 214.48 381.93 214.56 384.23 214.52C386.54 214.48 388.63 214.44 390.52 214.02C392.41 213.60 393.87 212.76 395.55 212.01C397.23 211.25 399.11 210.08 400.58 209.49C402.05 208.90 403.09 208.44 404.35 208.49C405.61 208.53 406.87 208.95 408.12 209.74C409.38 210.54 410.64 212.05 411.89 213.26C413.15 214.48 414.41 216.07 415.67 217.04C416.92 218.00 417.97 218.67 419.44 219.05C420.91 219.42 422.58 219.51 424.47 219.30C426.35 219.09 428.45 218.46 430.75 217.79C433.06 217.12 435.57 215.95 438.30 215.27C441.02 214.60 444.38 214.06 447.10 213.77C449.82 213.47 452.13 213.47 454.64 213.51C457.16 213.56 459.67 213.85 462.19 214.02C464.70 214.19 467.22 214.52 469.73 214.52C472.25 214.52 474.76 214.19 477.27 214.02C479.79 213.85 481.88 213.64 484.82 213.51C487.75 213.39 491.69 213.35 494.88 213.26C498.06 213.18 502.42 213.05 503.93 213.01" fill="none" stroke="#457bb1" stroke-width="1.2" stroke-linejoin="round"/>
<g stroke="#383838" stroke-width="0.5" fill="none">
<path d="M539.90 177.60 V229.50 H678.90"/>
<path d="M609.40 229.50 v-1.4"/>
<path d="M678.90 229.50 v-1.4"/>
<path d="M539.90 178.40 h1.4"/>
<path d="M539.90 203.70 h1.4"/>
<path d="M539.90 228.60 h1.4"/>
</g>
<text transform="translate(536.50 181.53) rotate(0.03)" font-size="7.90" text-anchor="end">300</text>
<text transform="translate(536.50 206.83) rotate(0.03)" font-size="7.90" text-anchor="end">150</text>
<text transform="translate(536.50 231.73) rotate(0.03)" font-size="7.90" text-anchor="end">0</text>
<text class="t" transform="translate(609.10 174.10) rotate(0.03)" font-size="8.62" text-anchor="middle">Tibialis Anterior</text>
<path d="M540.16 206.22C541.08 205.97 543.72 205.01 545.69 204.71C547.66 204.42 549.88 204.08 551.98 204.46C554.07 204.84 556.17 205.51 558.26 206.98C560.36 208.44 562.45 211.17 564.55 213.26C566.65 215.36 568.74 217.87 570.84 219.55C572.93 221.23 575.24 222.48 577.12 223.32C579.01 224.16 580.69 224.50 582.15 224.58C583.62 224.66 584.67 224.54 585.92 223.82C587.18 223.11 588.44 221.65 589.70 220.30C590.95 218.96 592.00 217.79 593.47 215.78C594.93 213.77 596.82 210.66 598.50 208.23C600.17 205.80 601.85 202.62 603.53 201.19C605.20 199.77 606.88 200.19 608.56 199.68C610.23 199.18 611.91 198.85 613.58 198.18C615.26 197.50 616.94 196.25 618.61 195.66C620.29 195.07 622.18 194.65 623.64 194.65C625.11 194.65 625.95 194.86 627.42 195.66C628.88 196.46 630.77 197.97 632.44 199.43C634.12 200.90 635.80 202.79 637.47 204.46C639.15 206.14 640.83 207.90 642.50 209.49C644.18 211.08 645.86 212.84 647.53 214.02C649.21 215.19 650.88 216.32 652.56 216.53C654.24 216.74 655.70 215.90 657.59 215.27C659.48 214.65 661.78 213.51 663.88 212.76C665.97 212.01 668.36 211.50 670.16 210.75C671.97 209.99 673.94 208.65 674.69 208.23" fill="none" stroke="#457bb1" stroke-width="1.2" stroke-dasharray="3.3 3" stroke-linejoin="round"/>
<path d="M540.16 204.71C541.08 204.55 543.72 203.92 545.69 203.71C547.66 203.50 549.88 203.25 551.98 203.46C554.07 203.67 556.17 203.96 558.26 204.96C560.36 205.97 562.45 208.11 564.55 209.49C566.65 210.87 568.95 212.34 570.84 213.26C572.72 214.19 574.40 214.81 575.87 215.02C577.33 215.23 578.17 215.15 579.64 214.52C581.10 213.89 582.99 212.72 584.67 211.25C586.34 209.78 588.02 208.11 589.70 205.72C591.37 203.33 593.05 199.64 594.73 196.92C596.40 194.19 598.29 191.26 599.75 189.37C601.22 187.49 602.27 186.44 603.53 185.60C604.78 184.76 606.04 184.43 607.30 184.35C608.56 184.26 609.81 185.23 611.07 185.10C612.33 184.97 613.38 184.26 614.84 183.59C616.31 182.92 618.19 181.75 619.87 181.08C621.55 180.41 623.43 179.78 624.90 179.57C626.37 179.36 627.21 179.44 628.67 179.82C630.14 180.20 632.03 180.66 633.70 181.83C635.38 183.00 637.05 184.97 638.73 186.86C640.41 188.75 642.08 191.05 643.76 193.15C645.44 195.24 647.11 197.63 648.79 199.43C650.47 201.23 652.14 202.79 653.82 203.96C655.50 205.13 657.17 205.89 658.85 206.47C660.52 207.06 662.20 207.35 663.88 207.48C665.55 207.61 667.10 207.65 668.91 207.23C670.71 206.81 673.73 205.34 674.69 204.96" fill="none" stroke="#457bb1" stroke-width="1.2" stroke-linejoin="round"/>
<g stroke="#383838" stroke-width="0.5" fill="none">
<path d="M26.50 252.00 V303.90 H165.50"/>
<path d="M96.00 303.90 v-1.4"/>
<path d="M165.50 303.90 v-1.4"/>
<path d="M26.50 254.60 h1.4"/>
<path d="M26.50 278.50 h1.4"/>
<path d="M26.50 301.90 h1.4"/>
</g>
<text transform="translate(23.10 257.73) rotate(0.03)" font-size="7.90" text-anchor="end">110</text>
<text transform="translate(23.10 281.63) rotate(0.03)" font-size="7.90" text-anchor="end">55</text>
<text transform="translate(23.10 305.03) rotate(0.03)" font-size="7.90" text-anchor="end">0</text>
<text class="t" transform="translate(95.70 248.70) rotate(0.03)" font-size="8.62" text-anchor="middle">Iliacus</text>
<path d="M26.86 298.51C28.35 298.54 32.15 298.78 35.81 298.64C39.47 298.50 45.28 298.02 48.81 297.66C52.33 297.30 55.19 296.85 56.96 296.50C58.72 296.16 58.45 296.22 59.40 295.57C60.34 294.93 61.69 293.93 62.64 292.63C63.59 291.33 64.27 288.94 65.08 287.75C65.89 286.56 66.16 285.81 67.52 285.49C68.88 285.17 71.60 286.17 73.23 285.82C74.86 285.46 76.08 284.73 77.30 283.38C78.52 282.02 79.32 280.52 80.54 277.67C81.76 274.82 83.26 269.67 84.62 266.28C85.97 262.89 87.33 259.50 88.69 257.33C90.05 255.15 91.41 253.60 92.76 253.25C94.12 252.90 95.46 254.40 96.81 255.21C98.17 256.03 99.26 257.88 100.89 258.15C102.52 258.43 105.08 256.90 106.59 256.85C108.11 256.79 109.01 257.20 109.99 257.83C110.97 258.45 111.10 259.67 112.45 260.59C113.81 261.52 116.10 262.63 118.14 263.36C120.17 264.09 122.89 264.08 124.65 264.97C126.41 265.86 127.37 266.87 128.72 268.72C130.08 270.56 131.31 273.59 132.80 276.03C134.29 278.48 136.18 281.07 137.68 283.38C139.17 285.68 140.39 287.97 141.75 289.86C143.11 291.76 144.20 293.46 145.82 294.77C147.45 296.07 149.75 297.01 151.51 297.68C153.27 298.36 154.76 298.57 156.38 298.82C158.01 299.06 160.45 299.09 161.26 299.14" fill="none" stroke="#457bb1" stroke-width="1.2" stroke-dasharray="3.3 3" stroke-linejoin="round"/>
<path d="M26.86 298.34C28.35 298.37 32.15 298.65 35.81 298.51C39.47 298.38 45.28 297.89 48.81 297.53C52.33 297.18 54.24 296.78 56.96 296.38C59.67 295.97 62.91 295.42 65.08 295.09C67.25 294.77 68.35 294.55 69.98 294.44C71.61 294.33 73.37 294.74 74.86 294.44C76.35 294.14 77.58 293.80 78.93 292.63C80.29 291.46 81.49 289.78 82.98 287.43C84.47 285.07 86.50 280.64 87.86 278.47C89.22 276.31 90.22 275.32 91.13 274.42C92.04 273.53 92.14 273.04 93.29 273.12C94.45 273.19 96.65 274.65 98.07 274.88C99.50 275.11 100.54 274.68 101.84 274.50C103.14 274.32 104.51 273.63 105.87 273.82C107.22 274.01 108.89 274.99 109.99 275.63C111.09 276.27 110.96 276.73 112.45 277.67C113.95 278.60 116.80 280.83 118.97 281.24C121.14 281.65 123.31 279.62 125.48 280.11C127.65 280.60 129.96 282.96 131.99 284.18C134.03 285.40 136.05 286.12 137.68 287.43C139.30 288.73 140.26 290.64 141.75 292.00C143.24 293.36 145.00 294.63 146.63 295.57C148.25 296.52 149.88 297.14 151.51 297.68C153.13 298.23 154.76 298.57 156.38 298.82C158.01 299.06 160.45 299.09 161.26 299.14" fill="none" stroke="#457bb1" stroke-width="1.2" stroke-linejoin="round"/>
<text transform="translate(6.35 278.10) rotate(-89.97)" font-size="8.50" text-anchor="middle">Force (N)</text>
<text transform="translate(26.10 315.03) rotate(0.03)" font-size="7.90" text-anchor="middle">0</text>
<text transform="translate(95.90 315.03) rotate(0.03)" font-size="7.90" text-anchor="middle">50</text>
<text transform="translate(166.10 315.03) rotate(0.03)" font-size="7.90" text-anchor="middle">100</text>
<text transform="translate(29.80 326.70) rotate(0.03)" font-size="8.70" text-anchor="middle">TDC</text>
<text transform="translate(95.90 326.70) rotate(0.03)" font-size="8.70" text-anchor="middle">BDC</text>
<text transform="translate(161.90 326.70) rotate(0.03)" font-size="8.70" text-anchor="middle">TDC</text>
<text transform="translate(96.00 337.40) rotate(0.03)" font-size="8.60" text-anchor="middle">% Revolution</text>
<g stroke="#383838" stroke-width="0.5" fill="none">
<path d="M197.50 252.00 V303.90 H336.50"/>
<path d="M267.00 303.90 v-1.4"/>
<path d="M336.50 303.90 v-1.4"/>
<path d="M197.50 252.90 h1.4"/>
<path d="M197.50 278.30 h1.4"/>
<path d="M197.50 303.65 h1.4"/>
</g>
<text transform="translate(194.10 256.03) rotate(0.03)" font-size="7.90" text-anchor="end">600</text>
<text transform="translate(194.10 281.43) rotate(0.03)" font-size="7.90" text-anchor="end">300</text>
<text transform="translate(194.10 306.78) rotate(0.03)" font-size="7.90" text-anchor="end">0</text>
<text class="t" transform="translate(266.70 248.70) rotate(0.03)" font-size="8.62" text-anchor="middle">Psoas</text>
<path d="M197.90 300.78C199.03 301.03 201.88 302.12 204.69 302.29C207.50 302.45 211.61 302.04 214.75 301.78C217.89 301.53 221.24 301.07 223.55 300.78C225.85 300.48 227.11 300.65 228.58 300.02C230.05 299.39 230.88 297.80 232.35 297.01C233.82 296.21 235.70 296.08 237.38 295.25C239.06 294.41 240.73 293.78 242.41 291.98C244.09 290.17 245.76 287.16 247.44 284.43C249.12 281.71 251.00 277.73 252.47 275.63C253.93 273.54 254.98 272.70 256.24 271.86C257.50 271.02 258.75 270.90 260.01 270.60C261.27 270.31 262.53 270.52 263.78 270.10C265.04 269.68 266.09 269.26 267.56 268.09C269.02 266.91 270.91 264.44 272.58 263.06C274.26 261.68 276.15 260.46 277.61 259.79C279.08 259.12 279.92 258.91 281.39 259.04C282.85 259.16 284.74 259.66 286.42 260.54C288.09 261.42 289.77 262.64 291.44 264.32C293.12 265.99 294.80 268.51 296.47 270.60C298.15 272.70 300.04 275.42 301.50 276.89C302.97 278.36 303.81 279.07 305.27 279.40C306.74 279.74 308.63 278.69 310.30 278.90C311.98 279.11 313.66 279.53 315.33 280.66C317.01 281.79 318.69 283.80 320.36 285.69C322.04 287.58 323.92 290.22 325.39 291.98C326.86 293.74 327.99 294.99 329.16 296.25C330.34 297.51 331.89 298.98 332.43 299.52" fill="none" stroke="#457bb1" stroke-width="1.2" stroke-dasharray="3.3 3" stroke-linejoin="round"/>
<path d="M197.90 301.53C199.03 301.70 201.88 302.45 204.69 302.54C207.50 302.62 211.61 302.29 214.75 302.04C217.89 301.78 221.24 301.66 223.55 301.03C225.85 300.40 227.11 299.06 228.58 298.26C230.05 297.47 230.88 296.59 232.35 296.25C233.82 295.92 235.91 296.17 237.38 296.25C238.85 296.34 239.89 297.26 241.15 296.75C242.41 296.25 243.46 295.08 244.92 293.23C246.39 291.39 248.28 288.00 249.95 285.69C251.63 283.38 253.52 280.87 254.98 279.40C256.45 277.94 257.50 277.31 258.75 276.89C260.01 276.47 261.27 277.10 262.53 276.89C263.78 276.68 264.83 276.68 266.30 275.63C267.77 274.58 269.65 272.19 271.33 270.60C273.00 269.01 274.89 267.04 276.36 266.08C277.82 265.11 278.66 264.82 280.13 264.82C281.60 264.82 283.48 265.32 285.16 266.08C286.83 266.83 288.51 267.96 290.19 269.35C291.86 270.73 293.54 272.57 295.22 274.37C296.89 276.18 298.78 278.61 300.25 280.16C301.71 281.71 302.55 282.92 304.02 283.68C305.48 284.43 307.37 284.35 309.05 284.68C310.72 285.02 312.40 285.02 314.08 285.69C315.75 286.36 317.43 287.53 319.11 288.71C320.78 289.88 322.46 291.35 324.13 292.73C325.81 294.11 327.78 295.87 329.16 297.01C330.55 298.14 331.89 299.10 332.43 299.52" fill="none" stroke="#457bb1" stroke-width="1.2" stroke-linejoin="round"/>
<text transform="translate(197.10 315.03) rotate(0.03)" font-size="7.90" text-anchor="middle">0</text>
<text transform="translate(266.90 315.03) rotate(0.03)" font-size="7.90" text-anchor="middle">50</text>
<text transform="translate(337.10 315.03) rotate(0.03)" font-size="7.90" text-anchor="middle">100</text>
<text transform="translate(200.80 326.70) rotate(0.03)" font-size="8.70" text-anchor="middle">TDC</text>
<text transform="translate(266.90 326.70) rotate(0.03)" font-size="8.70" text-anchor="middle">BDC</text>
<text transform="translate(332.90 326.70) rotate(0.03)" font-size="8.70" text-anchor="middle">TDC</text>
<text transform="translate(267.00 337.40) rotate(0.03)" font-size="8.60" text-anchor="middle">% Revolution</text>
<g stroke="#383838" stroke-width="0.5" fill="none">
<path d="M368.90 252.00 V303.90 H507.90"/>
<path d="M438.40 303.90 v-1.4"/>
<path d="M507.90 303.90 v-1.4"/>
<path d="M368.90 252.90 h1.4"/>
<path d="M368.90 278.30 h1.4"/>
<path d="M368.90 303.65 h1.4"/>
</g>
<text transform="translate(365.50 256.03) rotate(0.03)" font-size="7.90" text-anchor="end">600</text>
<text transform="translate(365.50 281.43) rotate(0.03)" font-size="7.90" text-anchor="end">300</text>
<text transform="translate(365.50 306.78) rotate(0.03)" font-size="7.90" text-anchor="end">0</text>
<text class="t" transform="translate(438.10 248.70) rotate(0.03)" font-size="8.62" text-anchor="middle">Gluteus Maximus</text>
<path d="M368.84 268.72C369.25 267.77 370.33 264.85 371.28 263.03C372.23 261.22 373.33 259.13 374.55 257.83C375.78 256.52 377.41 255.49 378.63 255.21C379.85 254.94 380.79 255.30 381.87 256.19C382.95 257.09 384.17 258.91 385.11 260.59C386.06 262.27 386.33 263.70 387.55 266.28C388.78 268.85 390.83 273.05 392.46 276.03C394.09 279.02 395.71 281.60 397.34 284.18C398.96 286.76 400.59 289.73 402.21 291.50C403.84 293.26 405.47 294.01 407.09 294.77C408.72 295.53 410.34 295.43 411.97 296.05C413.60 296.67 415.22 297.81 416.85 298.49C418.47 299.17 419.83 299.72 421.73 300.12C423.63 300.53 425.69 300.80 428.24 300.93C430.79 301.06 433.08 300.95 437.04 300.90C441.00 300.86 447.81 300.71 452.00 300.65C456.19 300.59 458.81 300.59 462.19 300.53C465.56 300.46 469.52 300.40 472.25 300.27C474.97 300.15 476.34 300.02 478.53 299.77C480.72 299.53 483.15 299.38 485.37 298.82C487.59 298.25 489.96 297.41 491.86 296.38C493.76 295.35 495.41 294.12 496.76 292.63C498.12 291.14 499.06 289.32 500.01 287.43C500.95 285.53 502.04 282.27 502.45 281.24" fill="none" stroke="#457bb1" stroke-width="1.2" stroke-dasharray="3.3 3" stroke-linejoin="round"/>
<path d="M368.84 280.11C369.39 279.29 370.89 276.99 372.11 275.23C373.33 273.47 374.81 270.82 376.16 269.55C377.52 268.27 379.01 267.64 380.24 267.58C381.46 267.53 382.42 268.08 383.50 269.22C384.59 270.36 385.53 272.34 386.75 274.42C387.97 276.51 389.33 279.44 390.82 281.74C392.31 284.05 394.07 286.44 395.70 288.25C397.33 290.07 398.95 291.54 400.58 292.63C402.21 293.72 403.97 294.33 405.46 294.77C406.95 295.20 408.31 295.30 409.53 295.25C410.75 295.19 411.69 294.39 412.77 294.44C413.86 294.50 414.82 294.90 416.04 295.57C417.27 296.25 418.63 297.73 420.12 298.49C421.61 299.25 422.83 299.74 425.00 300.12C427.16 300.51 428.62 300.72 433.12 300.78C437.62 300.83 447.16 300.53 452.00 300.45C456.85 300.37 458.81 300.35 462.19 300.27C465.56 300.20 469.74 300.18 472.25 300.02C474.75 299.86 475.04 299.63 477.22 299.32C479.41 299.01 482.93 298.84 485.37 298.16C487.81 297.48 489.83 296.44 491.86 295.25C493.89 294.06 495.67 292.54 497.57 291.02C499.47 289.50 502.30 286.96 503.25 286.14" fill="none" stroke="#457bb1" stroke-width="1.2" stroke-linejoin="round"/>
<text transform="translate(368.50 315.03) rotate(0.03)" font-size="7.90" text-anchor="middle">0</text>
<text transform="translate(438.30 315.03) rotate(0.03)" font-size="7.90" text-anchor="middle">50</text>
<text transform="translate(508.50 315.03) rotate(0.03)" font-size="7.90" text-anchor="middle">100</text>
<text transform="translate(372.20 326.70) rotate(0.03)" font-size="8.70" text-anchor="middle">TDC</text>
<text transform="translate(438.30 326.70) rotate(0.03)" font-size="8.70" text-anchor="middle">BDC</text>
<text transform="translate(504.30 326.70) rotate(0.03)" font-size="8.70" text-anchor="middle">TDC</text>
<text transform="translate(438.40 337.40) rotate(0.03)" font-size="8.60" text-anchor="middle">% Revolution</text>
<g stroke="#383838" stroke-width="0.5" fill="none">
<path d="M539.90 252.00 V303.90 H678.90"/>
<path d="M609.40 303.90 v-1.4"/>
<path d="M678.90 303.90 v-1.4"/>
<path d="M539.90 254.60 h1.4"/>
<path d="M539.90 278.50 h1.4"/>
<path d="M539.90 301.90 h1.4"/>
</g>
<text transform="translate(536.50 257.73) rotate(0.03)" font-size="7.90" text-anchor="end">110</text>
<text transform="translate(536.50 281.63) rotate(0.03)" font-size="7.90" text-anchor="end">55</text>
<text transform="translate(536.50 305.03) rotate(0.03)" font-size="7.90" text-anchor="end">0</text>
<text class="t" transform="translate(609.10 248.70) rotate(0.03)" font-size="8.62" text-anchor="middle">Gluteus Medius</text>
<path d="M540.16 286.95C541.08 287.24 543.51 288.08 545.69 288.71C547.87 289.34 550.72 290.34 553.23 290.72C555.75 291.10 558.47 291.18 560.78 290.97C563.08 290.76 565.60 290.13 567.06 289.46C568.53 288.79 568.32 288.41 569.58 286.95C570.84 285.48 572.93 282.97 574.61 280.66C576.28 278.36 578.17 275.63 579.64 273.12C581.10 270.60 582.28 267.17 583.41 265.57C584.54 263.98 585.17 263.69 586.43 263.56C587.68 263.44 589.36 264.69 590.95 264.82C592.55 264.94 594.31 265.24 595.98 264.32C597.66 263.39 599.38 260.96 601.01 259.29C602.65 257.61 604.57 255.22 605.79 254.26C607.00 253.29 607.51 253.08 608.30 253.50C609.10 253.92 609.69 255.18 610.57 256.77C611.45 258.36 612.24 260.96 613.58 263.06C614.93 265.15 616.94 267.46 618.61 269.35C620.29 271.23 621.97 272.70 623.64 274.37C625.32 276.05 627.08 277.85 628.67 279.40C630.27 280.95 631.73 282.97 633.20 283.68C634.67 284.39 635.71 283.97 637.47 283.68C639.23 283.38 641.66 281.79 643.76 281.92C645.86 282.04 648.37 283.51 650.05 284.43C651.72 285.35 652.77 286.82 653.82 287.45C654.87 288.08 654.66 287.79 656.33 288.20C658.01 288.62 660.82 289.55 663.88 289.96C666.94 290.38 672.89 290.59 674.69 290.72" fill="none" stroke="#457bb1" stroke-width="1.2" stroke-dasharray="3.3 3" stroke-linejoin="round"/>
<path d="M540.16 286.95C541.08 287.24 543.51 288.08 545.69 288.71C547.87 289.34 550.72 290.34 553.23 290.72C555.75 291.10 558.47 291.18 560.78 290.97C563.08 290.76 564.97 290.34 567.06 289.46C569.16 288.58 571.26 287.16 573.35 285.69C575.45 284.22 577.75 282.34 579.64 280.66C581.52 278.98 582.99 276.55 584.67 275.63C586.34 274.71 587.81 275.42 589.70 275.13C591.58 274.84 594.10 274.84 595.98 273.87C597.87 272.91 599.54 270.73 601.01 269.35C602.48 267.96 603.74 266.50 604.78 265.57C605.83 264.65 606.46 263.73 607.30 263.81C608.14 263.90 608.56 264.86 609.81 266.08C611.07 267.29 613.17 269.51 614.84 271.11C616.52 272.70 618.19 274.37 619.87 275.63C621.55 276.89 623.22 277.48 624.90 278.65C626.58 279.82 628.46 281.58 629.93 282.67C631.40 283.76 632.23 284.77 633.70 285.19C635.17 285.61 637.05 285.31 638.73 285.19C640.41 285.06 641.87 284.35 643.76 284.43C645.65 284.52 647.95 285.06 650.05 285.69C652.14 286.32 654.03 287.49 656.33 288.20C658.64 288.92 660.82 289.55 663.88 289.96C666.94 290.38 672.89 290.59 674.69 290.72" fill="none" stroke="#457bb1" stroke-width="1.2" stroke-linejoin="round"/>
<text transform="translate(539.50 315.03) rotate(0.03)" font-size="7.90" text-anchor="middle">0</text>
<text transform="translate(609.30 315.03) rotate(0.03)" font-size="7.90" text-anchor="middle">50</text>
<text transform="translate(679.50 315.03) rotate(0.03)" font-size="7.90" text-anchor="middle">100</text>
<text transform="translate(543.20 326.70) rotate(0.03)" font-size="8.70" text-anchor="middle">TDC</text>
<text transform="translate(609.30 326.70) rotate(0.03)" font-size="8.70" text-anchor="middle">BDC</text>
<text transform="translate(675.30 326.70) rotate(0.03)" font-size="8.70" text-anchor="middle">TDC</text>
<text transform="translate(609.40 337.40) rotate(0.03)" font-size="8.60" text-anchor="middle">% Revolution</text>
</svg></body></html>
